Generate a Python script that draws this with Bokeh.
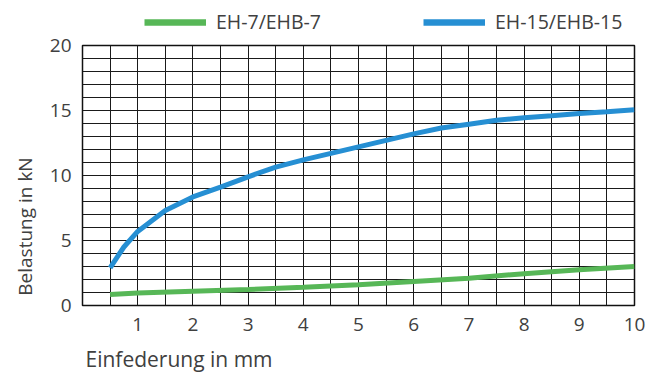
import math
from bokeh.plotting import figure
from bokeh.layouts import column, row
from bokeh.models import Range1d, FixedTicker, Legend, LegendItem, Label
from bokeh.embed import file_html
from bokeh.resources import INLINE

# ---- data ----
x_ticks = [1, 2, 3, 4, 5, 6, 7, 8, 9, 10]
y_ticks = [0, 5, 10, 15, 20]

eh7_x = [0.5, 1, 2, 3, 4, 5, 6, 7, 8, 9, 10]
eh7_y = [0.85, 0.97, 1.1, 1.23, 1.4, 1.6, 1.85, 2.1, 2.45, 2.75, 3.0]

eh15_x = [0.5, 0.75, 1, 1.5, 2, 2.5, 3, 3.5, 4, 4.5, 5, 5.5, 6, 6.5, 7, 7.5, 8, 8.5, 9, 9.5, 10]
eh15_y = [2.9, 4.5, 5.7, 7.3, 8.35, 9.1, 9.9, 10.65, 11.2, 11.7, 12.2, 12.7, 13.2,
          13.65, 13.95, 14.25, 14.45, 14.6, 14.77, 14.9, 15.05]

series_names = ["EH-7/EHB-7", "EH-15/EHB-15"]
x_title = "Einfederung in mm"
y_title = "Belastung in kN"

GREEN = "#57b757"
BLUE = "#268fd3"
TEXT = "#404040"
FONT = "Open Sans"


def blank_fig(w, h, **kw):
    f = figure(width=w, height=h, output_backend="svg", toolbar_location=None,
               x_axis_type=None, y_axis_type=None,
               min_border_left=0, min_border_right=0, min_border_top=0,
               min_border_bottom=0, **kw)
    f.outline_line_color = None
    f.background_fill_color = "white"
    f.border_fill_color = "white"
    return f


# ---- main chart ----
p = figure(width=610, height=312, output_backend="svg", toolbar_location=None,
           x_range=Range1d(0, 10), y_range=Range1d(0, 20),
           min_border_left=42, min_border_right=16, min_border_top=12,
           min_border_bottom=40)
p.outline_line_color = "#111111"
p.outline_line_width = 1.5
p.background_fill_color = "white"
p.border_fill_color = "white"

p.xgrid.ticker = FixedTicker(ticks=[i * 0.5 for i in range(0, 21)])
p.ygrid.ticker = FixedTicker(ticks=list(range(0, 21)))
for g in (p.xgrid[0], p.ygrid[0]):
    g.grid_line_color = "#1a1a1a"
    g.grid_line_width = 1
    g.grid_line_alpha = 1

p.xaxis.ticker = FixedTicker(ticks=x_ticks)
p.yaxis.ticker = FixedTicker(ticks=y_ticks)
for ax in (p.xaxis[0], p.yaxis[0]):
    ax.axis_line_color = None
    ax.major_tick_line_color = None
    ax.minor_tick_line_color = None
    ax.major_tick_out = 0
    ax.major_tick_in = 0
    ax.minor_tick_out = 0
    ax.minor_tick_in = 0
    ax.major_label_text_font = FONT
    ax.major_label_text_font_size = "19px"
    ax.major_label_text_color = TEXT
p.xaxis.major_label_standoff = 12
p.yaxis.major_label_standoff = 11

p.line(eh7_x, eh7_y, line_color=GREEN, line_width=5)
p.line(eh15_x, eh15_y, line_color=BLUE, line_width=5)

# ---- legend strip above (its own copies of the series lie outside its view) ----
lf = blank_fig(650, 33, x_range=Range1d(-30, -20), y_range=Range1d(-30, -20))
d7 = lf.line(eh7_x, eh7_y, line_color=GREEN, line_width=6.5)
d15 = lf.line(eh15_x, eh15_y, line_color=BLUE, line_width=6.5)
leg = Legend(items=[LegendItem(label=series_names[0], renderers=[d7]),
                    LegendItem(label=series_names[1], renderers=[d15])],
             location=(144, -2), orientation="horizontal",
             glyph_width=62, glyph_height=20, label_height=20, label_width=190,
             label_standoff=10, padding=0, margin=0, spacing=17,
             border_line_color=None, background_fill_alpha=0,
             label_text_font=FONT, label_text_font_size="19.5px",
             label_text_color=TEXT, label_text_baseline="middle")
lf.add_layout(leg)

# ---- y title strip (its frame is aligned with the chart frame) ----
yf = blank_fig(40, 312)
yf.add_layout(Label(x=24, y=79, x_units="screen", y_units="screen",
                    text=y_title, text_font=FONT, text_font_size="19px",
                    text_color=TEXT, angle=math.pi / 2,
                    text_align="center", text_baseline="middle"))

# ---- x title strip ----
xf = blank_fig(650, 27)
xf.add_layout(Label(x=85, y=14, x_units="screen", y_units="screen",
                    text=x_title, text_font=FONT, text_font_size="21px",
                    text_color=TEXT, text_align="left", text_baseline="middle"))

layout = column(lf, row(yf, p), xf)
open("out.html", "w").write(file_html(layout, INLINE))
